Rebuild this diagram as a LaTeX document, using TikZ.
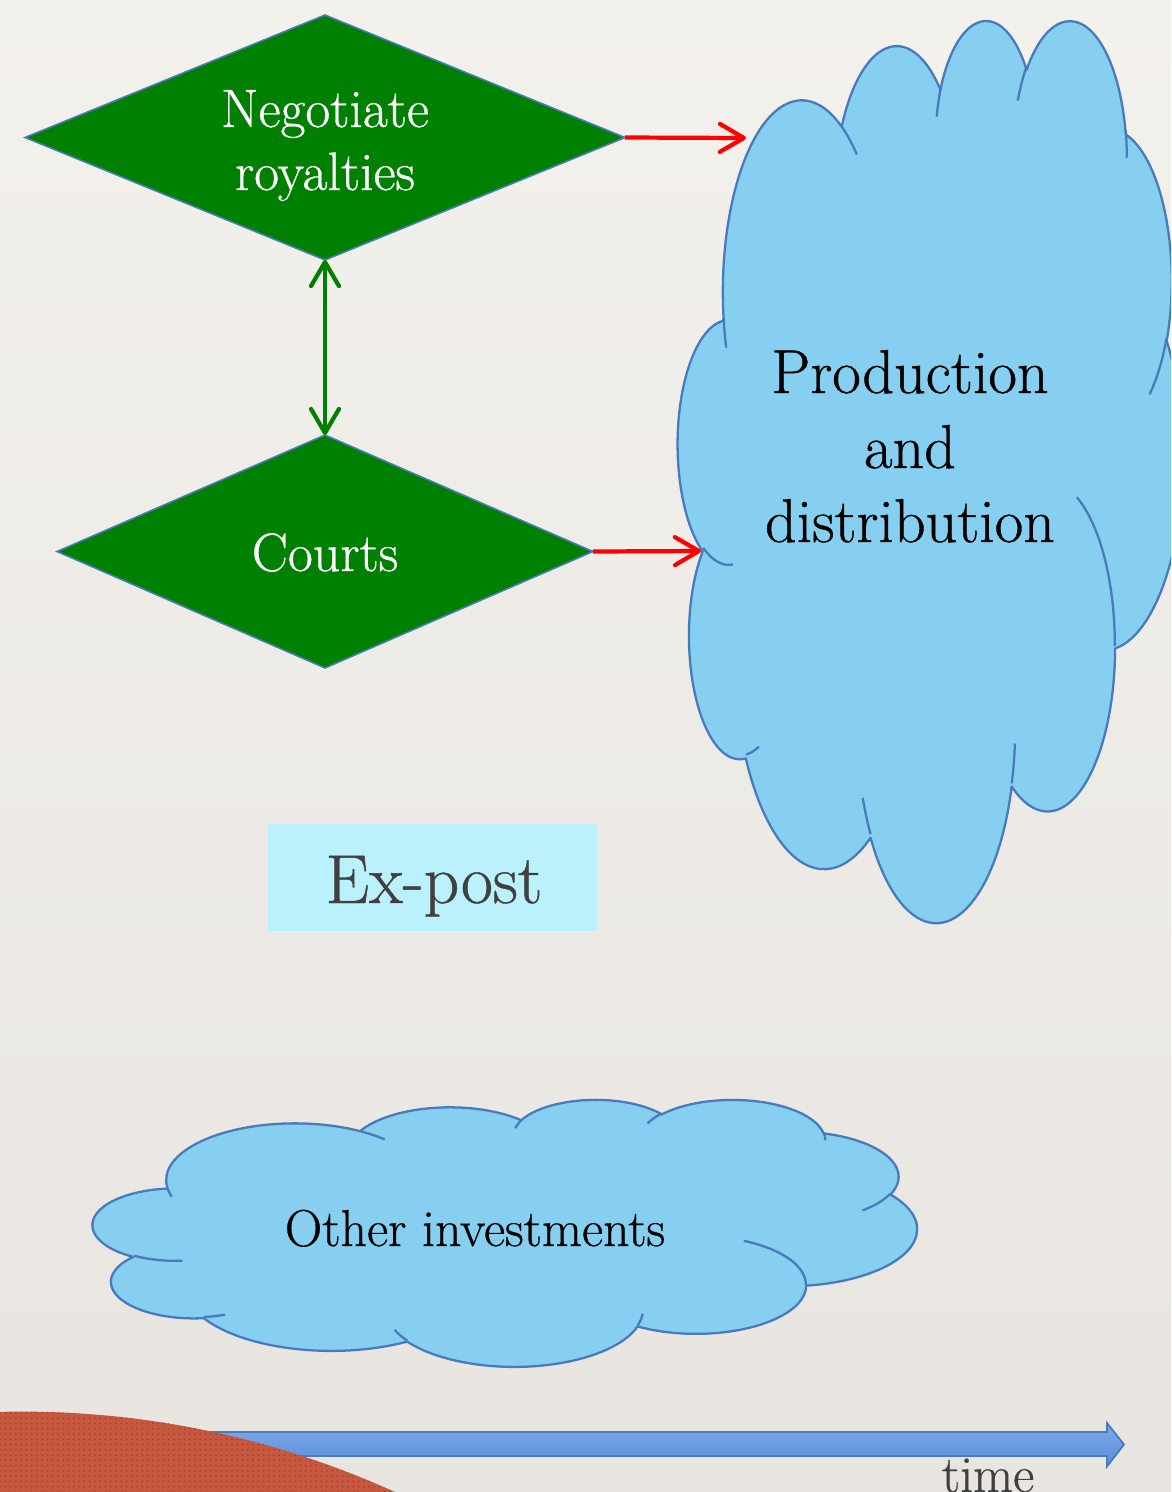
\documentclass[tikz,border=0pt]{standalone}
\usepackage{fontspec}
\setmainfont{Latin Modern Roman}[FakeBold=0.6]
\usetikzlibrary{shapes.geometric,arrows.meta,patterns}
\definecolor{bgtop}{RGB}{243,241,236}
\definecolor{bgbot}{RGB}{232,229,224}
\definecolor{skyb}{RGB}{134,207,240}
\definecolor{cedge}{RGB}{72,122,188}
\definecolor{dgreen}{RGB}{0,128,0}
\definecolor{exfill}{RGB}{186,241,253}
\definecolor{tgray}{RGB}{64,64,64}
\definecolor{redc}{RGB}{198,88,64}
\definecolor{redd}{RGB}{165,62,46}
\definecolor{tatop}{RGB}{125,170,236}
\definecolor{tabot}{RGB}{90,142,216}

% one arc of an OOXML-style cloud: wR, hR, start angle, sweep (geometric angles)
\newcommand\carc[4]{%
 \pgfextra{%
  \pgfmathsetmacro\cAa{atan2((#1)*sin(#3),(#2)*cos(#3))}%
  \pgfmathsetmacro\cBb{atan2((#1)*sin(#3+#4),(#2)*cos(#3+#4))}%
  \pgfmathsetmacro\cDd{\cBb-\cAa}%
  \pgfmathsetmacro\cDd{ifthenelse(\cDd<0,\cDd+360,\cDd)}%
  \global\let\gAa\cAa \global\let\gDd\cDd}%
 arc[x radius=#1, y radius=#2, start angle=\gAa, delta angle=\gDd]}

\newcommand\drawcloud[4]{%
 \pgfmathsetmacro\cwx{(#3)*0.02/432}%
 \pgfmathsetmacro\cwy{-(#4)*0.02/432}%
 \begin{scope}[shift={(#1,#2)}, x=\cwx cm, y=\cwy cm]
  \path[cloudbody] (39.00,143.70)
   \carc{67.53}{91.90}{-190.4875}{123.7805}
   \carc{53.33}{72.67}{-144.1024}{89.9452}
   \carc{43.65}{59.45}{-145.8079}{99.7230}
   \carc{48.57}{65.95}{-130.9861}{117.2417}
   \carc{53.33}{72.73}{-78.7089}{109.0269}
   \carc{67.75}{92.20}{-46.2673}{130.2690}
   \carc{57.85}{78.67}{0.6250}{114.0333}
   \carc{67.52}{92.15}{22.4516}{115.1726}
   \carc{77.20}{105.43}{66.2426}{75.7110}
   \carc{43.60}{59.18}{-274.9421}{146.7356}
   \carc{43.45}{59.45}{-246.8285}{152.5189}
   -- cycle;
  \path[cloudline]
   (46.93,261.77) \carc{43.45}{59.45}{86.7420}{26.4295}
   (69.28,348.99) \carc{43.60}{59.18}{73.6105}{11.4475}
   (164.78,390.90) \carc{67.52}{92.15}{137.6242}{14.0811}
   (288.27,347.51) \carc{67.52}{92.15}{6.4533}{15.9984}
   (341.29,229.54) \carc{57.85}{78.67}{-70.2924}{70.9174}
   (417.98,153.54) \carc{53.33}{72.73}{30.3180}{27.7515}
   (383.24,54.26) \carc{48.57}{65.95}{-13.7443}{14.8589}
   (290.78,39.52) \carc{48.57}{65.95}{-149.1815}{18.1954}
   (221.41,47.20) \carc{43.65}{59.45}{-163.4943}{17.6864}
   (140.00,51.92) \carc{67.53}{91.90}{-66.7070}{12.3194}
   (41.27,157.89) \carc{67.53}{91.90}{157.6544}{11.8539};
 \end{scope}}

\tikzset{
 diam/.style={diamond, fill=dgreen, draw=cedge, line width=0.9pt, inner sep=0pt, outer sep=0pt},
 wtxt/.style={text=white, font=\fontsize{30.8}{36}\selectfont, inner sep=0pt},
 ctxt/.style={text=black, font=\fontsize{35.3}{42}\selectfont, inner sep=0pt},
 otxt/.style={text=black, font=\fontsize{29.5}{34}\selectfont, inner sep=0pt},
 extxt/.style={text=tgray, font=\fontsize{39.5}{46}\selectfont, inner sep=0pt},
 ttxt/.style={text=tgray, font=\fontsize{29.5}{34}\selectfont, inner sep=0pt},
 exbox/.style={fill=exfill, draw=none, minimum width=6.58cm, minimum height=2.14cm, inner sep=0pt},
 cloudbody/.style={fill=skyb, draw=cedge, line width=1.3pt, line join=round},
 cloudline/.style={draw=cedge, line width=1.3pt},
 barb/.tip={Straight Barb[length=4.8mm, width=5.6mm, round]},
 redarr/.style={draw=red, line width=2.4pt, -barb},
 greenarr/.style={draw=dgreen, line width=2.4pt, barb-barb},
 timearr/.style={top color=tatop, bottom color=tabot, draw=cedge, line width=1pt, line join=miter}
}

\begin{document}
\begin{tikzpicture}[x=0.02cm, y=-0.02cm]
\useasboundingbox (0,0) rectangle (1171,1492);
\clip (0,0) rectangle (1171,1492);
\fill[top color=bgtop, bottom color=bgbot] (0,0) rectangle (1171,1492);

% diamonds
\node[diam, minimum width=12cm, minimum height=4.9cm] (neg) at (325,137.5) {};
\node[diam, minimum width=10.72cm, minimum height=4.66cm] (court) at (325,551.5) {};
\node[wtxt, anchor=base] (negA) at (325,127) {Negotiate};
\node[wtxt, anchor=base] (negB) at (325,190) {royalties};
\node[wtxt, anchor=base] (courtT) at (325,571) {Courts};

% clouds
\drawcloud{678}{18}{505}{902}
\drawcloud{93}{1099}{824}{267}

\node[ctxt, anchor=base] (prodA) at (910,393) {Production};
\node[ctxt, anchor=base] (prodB) at (910,468) {and};
\node[ctxt, anchor=base] (prodC) at (910,542) {distribution};
\node[otxt, anchor=base] (other) at (475,1246) {Other investments};

% connectors
\coordinate (c1) at (746,138);
\coordinate (c2) at (701,551);
\draw[redarr] (neg.east) -- (c1);
\draw[redarr] (court.east) -- (c2);
\draw[greenarr] (neg.south) -- (court.north);

% ex-post label
\node[exbox] (exb) at (432.5,877.5) {};
\node[extxt, anchor=base] (ex) at (434,903) {Ex-post};

% time arrow
\filldraw[timearr] (150,1432) -- (1107,1432) -- (1107,1423) -- (1124,1444.5)
  -- (1107,1466.5) -- (1107,1456) -- (150,1456) -- cycle;
\fill[redc] (21.7,2315.6) circle[radius=904];
\fill[pattern=dots, pattern color=redd] (21.7,2315.6) circle[radius=904];
\node[ttxt, anchor=base] (time) at (988,1492) {time};
\end{tikzpicture}
\end{document}
